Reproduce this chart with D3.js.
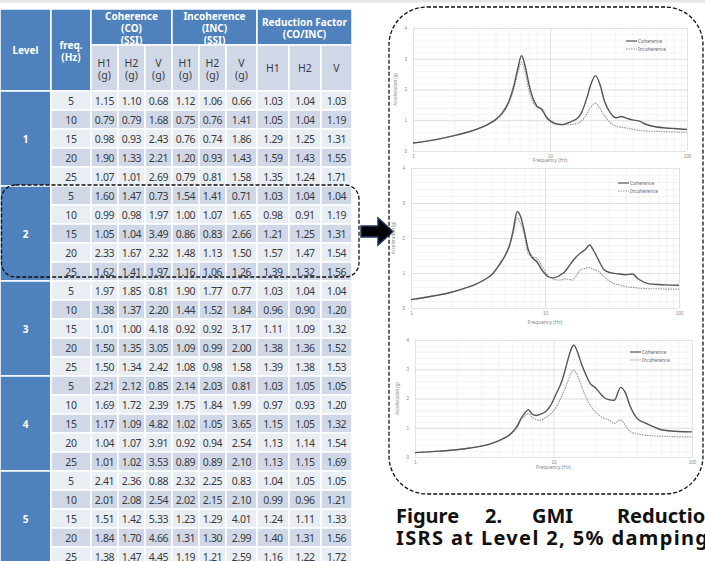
<!DOCTYPE html>
<html lang="en">
<head>
<meta charset="utf-8">
<title>GMI Reduction ISRS</title>
<script src="https://d3js.org/d3.v7.min.js"></script>
<style>
  body { margin: 0; background: #fff; }
  svg { display: block; font-family: "Noto Sans", "Open Sans", sans-serif; }
  .grid line { stroke: #ececec; stroke-width: 0.6; }
  .grid path { display: none; }
  .grid-major line { stroke: #dcdcdc; stroke-width: 0.8; }
  .grid-major path { display: none; }
  .ax path, .ax line { display: none; }
  .ax text { fill: #888; font-size: 4.5px; }
</style>
</head>
<body>
<script>
// ---------- table data ----------
const levels = ["1", "2", "3", "4", "5"];
const freqs = [5, 10, 15, 20, 25];
const cohH1 = [1.15,0.79,0.98,1.90,1.07, 1.60,0.99,1.05,2.33,1.62, 1.97,1.38,1.01,1.50,1.50, 2.21,1.69,1.17,1.04,1.01, 2.41,2.01,1.51,1.84,1.38];
const cohH2 = [1.10,0.79,0.93,1.33,1.01, 1.47,0.98,1.04,1.67,1.41, 1.85,1.37,1.00,1.35,1.34, 2.12,1.72,1.09,1.07,1.02, 2.36,2.08,1.42,1.70,1.47];
const cohV  = [0.68,1.68,2.43,2.21,2.69, 0.73,1.97,3.49,2.32,1.97, 0.81,2.20,4.18,3.05,2.42, 0.85,2.39,4.82,3.91,3.53, 0.88,2.54,5.33,4.66,4.45];
const incH1 = [1.12,0.75,0.76,1.20,0.79, 1.54,1.00,0.86,1.48,1.16, 1.90,1.44,0.92,1.09,1.08, 2.14,1.75,1.02,0.92,0.89, 2.32,2.02,1.23,1.31,1.19];
const incH2 = [1.06,0.76,0.74,0.93,0.81, 1.41,1.07,0.83,1.13,1.06, 1.77,1.52,0.92,0.99,0.98, 2.03,1.84,1.05,0.94,0.89, 2.25,2.15,1.29,1.30,1.21];
const incV  = [0.66,1.41,1.86,1.43,1.58, 0.71,1.65,2.66,1.50,1.26, 0.77,1.84,3.17,2.00,1.58, 0.81,1.99,3.65,2.54,2.10, 0.83,2.10,4.01,2.99,2.59];
const rfH1  = [1.03,1.05,1.29,1.59,1.35, 1.03,0.98,1.21,1.57,1.39, 1.03,0.96,1.11,1.38,1.39, 1.03,0.97,1.15,1.13,1.13, 1.04,0.99,1.24,1.40,1.16];
const rfH2  = [1.04,1.04,1.25,1.43,1.24, 1.04,0.91,1.25,1.47,1.32, 1.04,0.90,1.09,1.36,1.38, 1.05,0.93,1.05,1.14,1.15, 1.05,0.96,1.11,1.31,1.22];
const rfV   = [1.03,1.19,1.31,1.55,1.71, 1.04,1.19,1.31,1.54,1.56, 1.04,1.20,1.32,1.52,1.53, 1.05,1.20,1.32,1.54,1.69, 1.05,1.21,1.33,1.56,1.72];
const groupHeads = [["Coherence", "(CO)", "(SSI)"], ["Incoherence", "(INC)", "(SSI)"], ["Reduction Factor", "(CO/INC)"]];
const subHeads = [["H1","(g)"],["H2","(g)"],["V","(g)"],["H1","(g)"],["H2","(g)"],["V","(g)"],["H1"],["H2"],["V"]];

// ---------- spectrum data (frequency Hz / acceleration g) ----------
const freqHz = [1,1.5,2,2.5,3,3.5,4,4.5,5,5.5,5.8,6.2,6.6,7,7.5,8,8.7,9.5,10.5,11.5,12.5,13.2,14,15,16,17,18.5,20,21.5,23,25,27.5,30.5,33,36,40,45,50,60,70,80,100];
const coh1 = [0.26,0.38,0.50,0.61,0.73,0.86,1.02,1.25,1.60,2.20,2.65,3.10,2.75,2.20,1.72,1.47,1.35,1.08,0.93,0.87,0.86,0.90,0.94,1.00,1.08,1.25,1.70,2.20,2.45,2.20,1.62,1.25,1.08,1.12,1.07,1.01,0.97,0.87,0.78,0.75,0.73,0.70];
const inc1 = [0.26,0.38,0.50,0.61,0.73,0.86,1.00,1.22,1.55,2.10,2.50,2.88,2.55,2.00,1.60,1.42,1.38,1.05,0.90,0.86,0.86,0.86,0.86,0.87,0.90,0.98,1.20,1.45,1.55,1.40,1.15,0.92,0.80,0.77,0.75,0.71,0.67,0.65,0.64,0.63,0.62,0.61];
const coh2 = [0.24,0.35,0.45,0.56,0.67,0.80,0.95,1.20,1.47,1.85,2.24,2.75,2.60,2.20,1.67,1.45,1.32,1.08,0.90,0.86,0.90,0.96,1.03,1.18,1.33,1.45,1.58,1.67,1.80,1.65,1.38,1.10,1.01,0.99,0.97,0.95,0.97,0.82,0.69,0.67,0.66,0.65];
const inc2 = [0.24,0.35,0.45,0.56,0.67,0.80,0.95,1.22,1.50,1.85,2.15,2.58,2.40,2.10,1.55,1.47,1.42,1.19,0.92,0.83,0.80,0.80,0.83,0.82,0.80,0.90,1.10,1.13,1.16,1.10,1.05,0.90,0.76,0.69,0.66,0.61,0.59,0.57,0.55,0.55,0.54,0.54];
const coh3 = [0.15,0.20,0.25,0.31,0.37,0.45,0.55,0.67,0.83,1.08,1.30,1.50,1.62,1.47,1.42,1.46,1.54,1.75,2.18,2.60,3.20,3.60,3.83,3.55,3.15,2.85,2.50,2.38,2.20,2.05,1.96,1.94,2.38,2.20,1.70,1.33,1.18,1.08,0.93,0.89,0.87,0.86];
const inc3 = [0.15,0.20,0.25,0.31,0.37,0.45,0.55,0.66,0.81,1.03,1.25,1.40,1.49,1.36,1.28,1.26,1.34,1.46,1.72,2.10,2.50,2.80,2.97,2.75,2.40,2.08,1.75,1.55,1.42,1.33,1.27,1.15,1.27,1.08,0.86,0.80,0.75,0.73,0.71,0.70,0.69,0.69];
const seriesNames = ["Coherence", "Incoherence"];

const svg = d3.select("body").append("svg").attr("width", 705).attr("height", 561);
svg.append("rect").attr("width", 705).attr("height", 2.5).attr("fill", "#e6e6e6");

// ---------- table ----------
const colEdges = [0, 51, 91, 118, 145, 172, 199, 226, 257, 289, 321, 352];
const tableTop = 9, headSplit = 45, dataTop = 91, rowH = 19;
const blue = "#4f81bd", lightRow = "#e9edf4", darkRow = "#d0d8e8";
const table = svg.append("g");

function cell(x0, x1, y0, y1, fill) {
  table.append("rect").attr("x", x0).attr("y", y0).attr("width", x1 - x0).attr("height", y1 - y0)
    .attr("fill", fill).attr("stroke", "#fff").attr("stroke-width", 1.5);
}
function label(x, y, t, opt) {
  table.append("text").attr("x", x).attr("y", y).attr("text-anchor", "middle")
    .attr("dominant-baseline", "central")
    .attr("font-size", opt.size || 10).attr("font-weight", opt.bold ? "bold" : "normal")
    .attr("fill", opt.color || "#3a3a3a").attr("letter-spacing", opt.ls || 0).text(t);
}

// header
cell(colEdges[0], colEdges[1], tableTop, dataTop, blue);
label(25.5, 50, "Level", {bold: true, color: "#fff"});
cell(colEdges[1], colEdges[2], tableTop, dataTop, blue);
label(71, 45, "freq.", {bold: true, color: "#fff"});
label(71, 57, "(Hz)", {bold: true, color: "#fff"});
groupHeads.forEach((g, i) => {
  const x0 = colEdges[2 + i * 3], x1 = colEdges[5 + i * 3];
  cell(x0, x1, tableTop, headSplit, blue);
  const y0 = g.length === 3 ? 15.5 : 21.5;
  g.forEach((t, j) => label((x0 + x1) / 2, y0 + j * 12, t, {bold: true, color: "#fff"}));
});
subHeads.forEach((s, i) => {
  const x0 = colEdges[2 + i], x1 = colEdges[3 + i];
  cell(x0, x1, headSplit, dataTop, darkRow);
  if (s.length === 2) {
    label((x0 + x1) / 2, 62.5, s[0], {size: 10.5});
    label((x0 + x1) / 2, 74.5, s[1], {size: 10.5});
  } else {
    label((x0 + x1) / 2, 68, s[0], {size: 10.5});
  }
});

// body
const cols = [cohH1, cohH2, cohV, incH1, incH2, incV, rfH1, rfH2, rfV];
levels.forEach((lv, li) => {
  const gy = dataTop + li * 5 * rowH;
  cell(colEdges[0], colEdges[1], gy, gy + 5 * rowH, blue);
  label(25.5, gy + 2.5 * rowH, lv, {bold: true, color: "#fff"});
  freqs.forEach((f, fi) => {
    const r = li * 5 + fi, y = dataTop + r * rowH;
    const fill = r % 2 === 0 ? lightRow : darkRow;
    cell(colEdges[1], colEdges[2], y, y + rowH, fill);
    label(71, y + rowH / 2, f, {size: 10.5, ls: -0.2});
    cols.forEach((c, ci) => {
      cell(colEdges[2 + ci], colEdges[3 + ci], y, y + rowH, fill);
      label((colEdges[2 + ci] + colEdges[3 + ci]) / 2, y + rowH / 2, c[r].toFixed(2), {size: 10.5, ls: -0.3});
    });
  });
});

// dashed highlight around level 2
svg.append("rect").attr("x", 1.5).attr("y", 185).attr("width", 357.5).attr("height", 92).attr("rx", 14)
  .attr("fill", "none").attr("stroke", "#111").attr("stroke-width", 1.3).attr("stroke-dasharray", "4,2");

// arrow
svg.append("path").attr("d", "M361,226 L378,226 L378,218 L393,231.5 L378,245 L378,237 L361,237 Z")
  .attr("fill", "#000").attr("stroke", "#1f3864").attr("stroke-width", 1.5);

// right panel border
svg.append("rect").attr("x", 389).attr("y", 7).attr("width", 314).attr("height", 487).attr("rx", 38)
  .attr("fill", "none").attr("stroke", "#111").attr("stroke-width", 1.3).attr("stroke-dasharray", "4,2");

// ---------- charts ----------
const charts = [
  {x0: 413, x1: 687, y0: 28, y1: 151, coh: coh1, inc: inc1, legX: 626, legY: 41, fy: 162},
  {x0: 411, x1: 679, y0: 168, y1: 308, coh: coh2, inc: inc2, legX: 618, legY: 183, fy: 324},
  {x0: 415, x1: 692, y0: 340, y1: 457, coh: coh3, inc: inc3, legX: 630, legY: 352, fy: 469}
];
const minorX = [];
[1, 10].forEach(d => { for (let k = 2; k <= 9; k++) minorX.push(d * k); });

charts.forEach(c => {
  const g = svg.append("g");
  const x = d3.scaleLog().domain([1, 100]).range([c.x0, c.x1]);
  const y = d3.scaleLinear().domain([0, 4]).range([c.y1, c.y0]);

  g.append("g").attr("class", "grid").attr("transform", `translate(0,${c.y1})`)
    .call(d3.axisBottom(x).tickValues(minorX).tickSize(-(c.y1 - c.y0)).tickFormat(""));
  g.append("g").attr("class", "grid").attr("transform", `translate(${c.x0},0)`)
    .call(d3.axisLeft(y).tickValues(d3.range(0.2, 4, 0.2)).tickSize(-(c.x1 - c.x0)).tickFormat(""));
  g.append("g").attr("class", "grid-major").attr("transform", `translate(0,${c.y1})`)
    .call(d3.axisBottom(x).tickValues([1, 10, 100]).tickSize(-(c.y1 - c.y0)).tickFormat(""));
  g.append("g").attr("class", "grid-major").attr("transform", `translate(${c.x0},0)`)
    .call(d3.axisLeft(y).tickValues([0, 1, 2, 3, 4]).tickSize(-(c.x1 - c.x0)).tickFormat(""));

  g.append("g").attr("class", "ax").attr("transform", `translate(${c.x0},0)`)
    .call(d3.axisLeft(y).tickValues([0, 1, 2, 3, 4]).tickSize(0).tickPadding(6).tickFormat(d3.format("d")));
  g.append("g").attr("class", "ax").attr("transform", `translate(0,${c.y1})`)
    .call(d3.axisBottom(x).tickValues([1, 10, 100]).tickSize(0).tickPadding(4).tickFormat(d3.format("d")));

  g.append("text").attr("transform", `translate(${c.x0 - 16},${(c.y0 + c.y1) / 2}) rotate(-90)`)
    .attr("text-anchor", "middle").attr("font-size", 4.5).attr("fill", "#888").text("Acceleration (g)");
  g.append("text").attr("x", (c.x0 + c.x1) / 2).attr("y", c.fy).attr("text-anchor", "middle")
    .attr("font-size", 5).attr("fill", "#888").text("Frequency (Hz)");

  const line = d3.line().x((d, i) => x(freqHz[i])).y(d => y(d)).curve(d3.curveMonotoneX);
  g.append("path").datum(c.inc).attr("d", line).attr("fill", "none")
    .attr("stroke", "#9a9a9a").attr("stroke-width", 1.2).attr("stroke-dasharray", "1.5,1");
  g.append("path").datum(c.coh).attr("d", line).attr("fill", "none")
    .attr("stroke", "#555").attr("stroke-width", 1.4);

  // legend
  seriesNames.forEach((n, i) => {
    const ly = c.legY + i * 8;
    g.append("line").attr("x1", c.legX).attr("x2", c.legX + 11).attr("y1", ly).attr("y2", ly)
      .attr("stroke", i === 0 ? "#555" : "#9a9a9a").attr("stroke-width", i === 0 ? 1.2 : 1)
      .attr("stroke-dasharray", i === 0 ? null : "1.5,1");
    g.append("text").attr("x", c.legX + 12).attr("y", ly).attr("dominant-baseline", "central")
      .attr("font-size", 4.8).attr("fill", "#666").text(n);
  });
});

// ---------- caption ----------
const cap = svg.append("g").attr("font-size", 20).attr("font-weight", "bold").attr("fill", "#111");
[["Figure", 396], ["2.", 485], ["GMI", 532], ["Reduction", 617]].forEach(w => {
  cap.append("text").attr("x", w[1]).attr("y", 523).text(w[0]);
});
cap.append("text").attr("x", 396).attr("y", 545).attr("textLength", 312).attr("lengthAdjust", "spacing")
  .text("ISRS at Level 2, 5% damping");
</script>
</body>
</html>
